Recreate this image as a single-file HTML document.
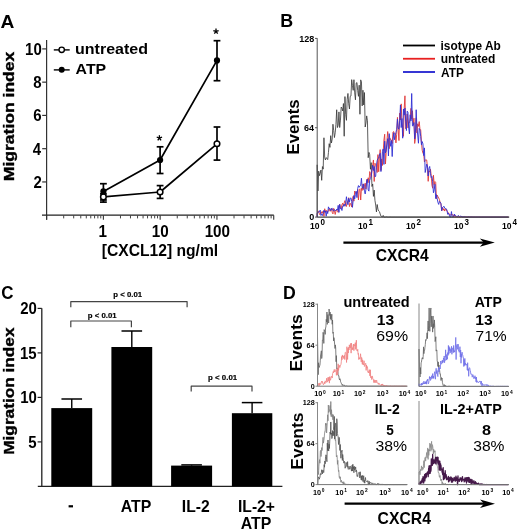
<!DOCTYPE html>
<html><head><meta charset="utf-8"><style>
html,body{margin:0;padding:0;background:#fff;}
svg{display:block;}
text{font-family:"Liberation Sans",sans-serif;}
</style></head><body>
<svg style="will-change:transform" width="520" height="530" viewBox="0 0 520 530">
<rect width="520" height="530" fill="#fff"/>
<text transform="translate(0.42,27.8) scale(1,1)" font-size="19.2" font-weight="bold" fill="#000">A</text>
<line x1="46.6" y1="40" x2="46.6" y2="219.8" stroke="#333" stroke-width="1.2"/>
<line x1="42.2" y1="181.94" x2="46.6" y2="181.94" stroke="#333" stroke-width="1.2"/>
<text transform="translate(33.39,187.94) scale(0.87,1)" font-size="17.2" font-weight="bold" fill="#000">2</text>
<line x1="42.2" y1="148.68" x2="46.6" y2="148.68" stroke="#333" stroke-width="1.2"/>
<text transform="translate(32.87,154.68) scale(0.87,1)" font-size="17.2" font-weight="bold" fill="#000">4</text>
<line x1="42.2" y1="115.42" x2="46.6" y2="115.42" stroke="#333" stroke-width="1.2"/>
<text transform="translate(33.32,121.42) scale(0.87,1)" font-size="17.2" font-weight="bold" fill="#000">6</text>
<line x1="42.2" y1="82.16" x2="46.6" y2="82.16" stroke="#333" stroke-width="1.2"/>
<text transform="translate(33.24,88.16) scale(0.87,1)" font-size="17.2" font-weight="bold" fill="#000">8</text>
<line x1="42.2" y1="48.9" x2="46.6" y2="48.9" stroke="#333" stroke-width="1.2"/>
<text transform="translate(25.08,54.9) scale(0.87,1)" font-size="17.2" font-weight="bold" fill="#000">10</text>
<line x1="42" y1="215.2" x2="273.8" y2="215.2" stroke="#222" stroke-width="1.3"/>
<line x1="46.6" y1="215.2" x2="46.6" y2="219.8" stroke="#333" stroke-width="1.1"/>
<line x1="63.69" y1="215.2" x2="63.69" y2="218.4" stroke="#444" stroke-width="1.0"/>
<line x1="73.69" y1="215.2" x2="73.69" y2="218.4" stroke="#444" stroke-width="1.0"/>
<line x1="80.78" y1="215.2" x2="80.78" y2="218.4" stroke="#444" stroke-width="1.0"/>
<line x1="86.29" y1="215.2" x2="86.29" y2="218.4" stroke="#444" stroke-width="1.0"/>
<line x1="90.78" y1="215.2" x2="90.78" y2="218.4" stroke="#444" stroke-width="1.0"/>
<line x1="94.58" y1="215.2" x2="94.58" y2="218.4" stroke="#444" stroke-width="1.0"/>
<line x1="97.88" y1="215.2" x2="97.88" y2="218.4" stroke="#444" stroke-width="1.0"/>
<line x1="100.78" y1="215.2" x2="100.78" y2="218.4" stroke="#444" stroke-width="1.0"/>
<line x1="103.38" y1="215.2" x2="103.38" y2="219.8" stroke="#333" stroke-width="1.1"/>
<line x1="120.47" y1="215.2" x2="120.47" y2="218.4" stroke="#444" stroke-width="1.0"/>
<line x1="130.47" y1="215.2" x2="130.47" y2="218.4" stroke="#444" stroke-width="1.0"/>
<line x1="137.56" y1="215.2" x2="137.56" y2="218.4" stroke="#444" stroke-width="1.0"/>
<line x1="143.07" y1="215.2" x2="143.07" y2="218.4" stroke="#444" stroke-width="1.0"/>
<line x1="147.56" y1="215.2" x2="147.56" y2="218.4" stroke="#444" stroke-width="1.0"/>
<line x1="151.36" y1="215.2" x2="151.36" y2="218.4" stroke="#444" stroke-width="1.0"/>
<line x1="154.66" y1="215.2" x2="154.66" y2="218.4" stroke="#444" stroke-width="1.0"/>
<line x1="157.56" y1="215.2" x2="157.56" y2="218.4" stroke="#444" stroke-width="1.0"/>
<line x1="160.16" y1="215.2" x2="160.16" y2="219.8" stroke="#333" stroke-width="1.1"/>
<line x1="177.25" y1="215.2" x2="177.25" y2="218.4" stroke="#444" stroke-width="1.0"/>
<line x1="187.25" y1="215.2" x2="187.25" y2="218.4" stroke="#444" stroke-width="1.0"/>
<line x1="194.34" y1="215.2" x2="194.34" y2="218.4" stroke="#444" stroke-width="1.0"/>
<line x1="199.85" y1="215.2" x2="199.85" y2="218.4" stroke="#444" stroke-width="1.0"/>
<line x1="204.34" y1="215.2" x2="204.34" y2="218.4" stroke="#444" stroke-width="1.0"/>
<line x1="208.14" y1="215.2" x2="208.14" y2="218.4" stroke="#444" stroke-width="1.0"/>
<line x1="211.44" y1="215.2" x2="211.44" y2="218.4" stroke="#444" stroke-width="1.0"/>
<line x1="214.34" y1="215.2" x2="214.34" y2="218.4" stroke="#444" stroke-width="1.0"/>
<line x1="216.94" y1="215.2" x2="216.94" y2="219.8" stroke="#333" stroke-width="1.1"/>
<line x1="234.03" y1="215.2" x2="234.03" y2="218.4" stroke="#444" stroke-width="1.0"/>
<line x1="244.03" y1="215.2" x2="244.03" y2="218.4" stroke="#444" stroke-width="1.0"/>
<line x1="251.12" y1="215.2" x2="251.12" y2="218.4" stroke="#444" stroke-width="1.0"/>
<line x1="256.63" y1="215.2" x2="256.63" y2="218.4" stroke="#444" stroke-width="1.0"/>
<line x1="261.12" y1="215.2" x2="261.12" y2="218.4" stroke="#444" stroke-width="1.0"/>
<line x1="264.92" y1="215.2" x2="264.92" y2="218.4" stroke="#444" stroke-width="1.0"/>
<line x1="268.22" y1="215.2" x2="268.22" y2="218.4" stroke="#444" stroke-width="1.0"/>
<line x1="271.12" y1="215.2" x2="271.12" y2="218.4" stroke="#444" stroke-width="1.0"/>
<line x1="273.72" y1="215.2" x2="273.72" y2="219.8" stroke="#333" stroke-width="1.1"/>
<text transform="translate(98.41,236.6) scale(0.9,1)" font-size="16.92" font-weight="bold" fill="#000">1</text>
<text transform="translate(151.78,236.6) scale(0.9,1)" font-size="16.92" font-weight="bold" fill="#000">10</text>
<text transform="translate(204.63,236.6) scale(0.9,1)" font-size="16.92" font-weight="bold" fill="#000">100</text>
<text transform="translate(101.74,256) scale(0.91,1)" font-size="17.2" font-weight="bold" fill="#000">[CXCL12] ng/ml</text>
<text transform="translate(14.2,181.19) rotate(-90) scale(1.23,1)" font-size="14.25" font-weight="bold" fill="#000" stroke="#000" stroke-width="0.35">Migration index</text>
<line x1="53.8" y1="49.9" x2="69.7" y2="49.9" stroke="#000" stroke-width="1.4"/>
<circle cx="61.7" cy="49.8" r="2.7" fill="#fff" stroke="#000" stroke-width="1.4"/>
<line x1="53.8" y1="69.9" x2="69.7" y2="69.9" stroke="#000" stroke-width="1.4"/>
<circle cx="61.7" cy="69.7" r="3.0" fill="#000"/>
<text transform="translate(74.99,54) scale(1.08,1)" font-size="14.84" font-weight="bold" fill="#000">untreated</text>
<text transform="translate(75.6,74.2) scale(1.07,1)" font-size="14.84" font-weight="bold" fill="#000">ATP</text>
<polyline points="103.4,196.9 160.1,192 217,143.8" fill="none" stroke="#000" stroke-width="1.7" stroke-linejoin="round" />
<polyline points="103.4,191.4 160.1,160 217,60.4" fill="none" stroke="#000" stroke-width="1.7" stroke-linejoin="round" />
<line x1="103.4" y1="193.9" x2="103.4" y2="202.1" stroke="#000" stroke-width="1.7"/>
<line x1="100" y1="193.9" x2="106.8" y2="193.9" stroke="#000" stroke-width="1.7"/>
<line x1="100" y1="202.1" x2="106.8" y2="202.1" stroke="#000" stroke-width="1.7"/>
<line x1="160.1" y1="185.6" x2="160.1" y2="198.4" stroke="#000" stroke-width="1.7"/>
<line x1="156.7" y1="185.6" x2="163.5" y2="185.6" stroke="#000" stroke-width="1.7"/>
<line x1="156.7" y1="198.4" x2="163.5" y2="198.4" stroke="#000" stroke-width="1.7"/>
<line x1="217" y1="127" x2="217" y2="160.1" stroke="#000" stroke-width="1.7"/>
<line x1="213.6" y1="127" x2="220.4" y2="127" stroke="#000" stroke-width="1.7"/>
<line x1="213.6" y1="160.1" x2="220.4" y2="160.1" stroke="#000" stroke-width="1.7"/>
<line x1="103.4" y1="183.7" x2="103.4" y2="200" stroke="#000" stroke-width="1.7"/>
<line x1="100" y1="183.7" x2="106.8" y2="183.7" stroke="#000" stroke-width="1.7"/>
<line x1="100" y1="200" x2="106.8" y2="200" stroke="#000" stroke-width="1.7"/>
<line x1="160.1" y1="146.8" x2="160.1" y2="173.5" stroke="#000" stroke-width="1.7"/>
<line x1="156.7" y1="146.8" x2="163.5" y2="146.8" stroke="#000" stroke-width="1.7"/>
<line x1="156.7" y1="173.5" x2="163.5" y2="173.5" stroke="#000" stroke-width="1.7"/>
<line x1="217" y1="40.7" x2="217" y2="80.7" stroke="#000" stroke-width="1.7"/>
<line x1="213.6" y1="40.7" x2="220.4" y2="40.7" stroke="#000" stroke-width="1.7"/>
<line x1="213.6" y1="80.7" x2="220.4" y2="80.7" stroke="#000" stroke-width="1.7"/>
<circle cx="103.4" cy="196.9" r="2.8" fill="#fff" stroke="#000" stroke-width="1.5"/>
<circle cx="160.1" cy="192.0" r="2.8" fill="#fff" stroke="#000" stroke-width="1.5"/>
<circle cx="217.0" cy="143.8" r="2.8" fill="#fff" stroke="#000" stroke-width="1.5"/>
<circle cx="103.4" cy="191.4" r="3.1" fill="#000"/>
<circle cx="160.1" cy="160.0" r="3.1" fill="#000"/>
<circle cx="217.0" cy="60.4" r="3.1" fill="#000"/>
<line x1="216" y1="31.4" x2="216" y2="28.6" stroke="#000" stroke-width="1.3"/>
<line x1="216" y1="31.4" x2="218.66" y2="30.53" stroke="#000" stroke-width="1.3"/>
<line x1="216" y1="31.4" x2="217.65" y2="33.67" stroke="#000" stroke-width="1.3"/>
<line x1="216" y1="31.4" x2="214.35" y2="33.67" stroke="#000" stroke-width="1.3"/>
<line x1="216" y1="31.4" x2="213.34" y2="30.53" stroke="#000" stroke-width="1.3"/>
<line x1="159.4" y1="138" x2="159.4" y2="135.2" stroke="#000" stroke-width="1.3"/>
<line x1="159.4" y1="138" x2="162.06" y2="137.13" stroke="#000" stroke-width="1.3"/>
<line x1="159.4" y1="138" x2="161.05" y2="140.27" stroke="#000" stroke-width="1.3"/>
<line x1="159.4" y1="138" x2="157.75" y2="140.27" stroke="#000" stroke-width="1.3"/>
<line x1="159.4" y1="138" x2="156.74" y2="137.13" stroke="#000" stroke-width="1.3"/>
<text transform="translate(280.19,27.2) scale(0.99,1)" font-size="18.04" font-weight="bold" fill="#000">B</text>
<polyline points="317.2,217.1 317.2,164.81 317.95,191.01 318.7,171.15 319.45,175.67 320.2,173.27 320.95,170 321.7,180.34 322.45,166.56 323.2,169.14 323.95,137.78 324.7,157.73 325.45,160 326.2,157.56 326.95,158.54 327.7,159.6 328.45,152.55 329.2,143.7 329.95,147.38 330.7,135.66 331.45,143.03 332.2,139.13 332.95,124.23 333.7,130.57 334.45,137.56 335.2,132.75 335.95,124.33 336.7,109.76 337.45,127.56 338.2,125.37 338.95,111.9 339.7,127.54 340.45,120.1 341.2,107.07 341.95,108.06 342.7,110.96 343.45,103.54 344.2,136.26 344.95,96.58 345.7,114.71 346.45,120.35 347.2,99.24 347.95,93.45 348.7,103.79 349.45,109.01 350.2,96.38 350.95,96.02 351.7,79.65 352.45,85.47 353.2,90.33 353.95,79.71 354.7,92.87 355.45,99.84 356.2,83.09 356.95,82.54 357.7,90.61 358.45,96.33 359.2,85.16 359.95,114.26 360.7,79.87 361.45,81.98 362.2,105.86 362.95,90.2 363.7,104.98 364.45,92.55 365.2,127.01 365.95,123.04 366.7,115.89 367.45,120.85 368.2,157.7 368.95,152.39 369.7,154.59 370.45,169.24 371.2,162.63 371.95,186.49 372.7,183.96 373.45,196.39 374.2,190.1 374.95,200.38 375.7,205.06 376.45,211.91 377.2,204.51 377.95,209.17 378.7,210.91 379.45,211.63 380.2,214.02 380.95,216.07 381.7,216.64 382.45,216.89 383.2,215.39 383.95,217.1 384.7,217.1 385.45,217.03 386.2,216.88 386.95,216.84 387.7,217.1 388.45,217.1 389.2,217.08 389.95,216.94 390.7,217.02 391.45,217.08 392.2,217.1 392.95,217.09 393.7,217.1 394.45,217.08 395.2,217.1 395.95,217.1 396.7,217.1 397.45,217.1 398.2,217.1 398.95,217.09 399.7,217.1 400.45,217.1 401.2,217.1 401.95,217.1 402.7,217.1 403.45,217.1 404.2,217.1 404.95,217.1 405.7,217.1 406.45,217.1 407.2,217.1 407.95,217.1 408.7,217.1 409.45,217.1 410.2,217.1 410.95,217.1 411.7,217.1 412.45,217.1 413.2,217.1 413.95,217.1 414.7,217.1 415.45,217.1 416.2,217.1 416.95,217.1 417.7,217.1 418.45,217.1 419.2,217.1 419.95,217.1 420.7,217.1 421.45,217.1 422.2,217.1 422.95,217.1 423.7,217.1 424.45,217.1 425.2,217.1 425.95,217.1 426.7,217.1 427.45,217.1 428.2,217.1 428.95,217.1 429.7,217.1 430.45,217.1 431.2,217.1 431.95,217.1 432.7,217.1 433.45,217.1 434.2,217.1 434.95,217.1 435.7,217.1 436.45,217.1 437.2,217.1 437.95,217.1 438.7,217.1 439.45,217.1 440.2,217.1 440.95,217.1 441.7,217.1 442.45,217.1 443.2,217.1 443.95,217.1 444.7,217.1 445.45,217.1 446.2,217.1 446.95,217.1 447.7,217.1 448.45,217.1 449.2,217.1 449.95,217.1 450.7,217.1 451.45,217.1 452.2,217.1 452.95,217.1 453.7,217.1 454.45,217.1 455.2,217.1 455.95,217.1 456.7,217.1 457.45,217.1 458.2,217.1 458.95,217.1 459.7,217.1 460.45,217.1 461.2,217.1 461.95,217.1 462.7,217.1 463.45,217.1 464.2,217.1 464.95,217.1 465.7,217.1 466.45,217.1 467.2,217.1 467.95,217.1 468.7,217.1 469.45,217.1 470.2,217.1 470.95,217.1 471.7,217.1 472.45,217.1 473.2,217.1 473.95,217.1 474.7,217.1 475.45,217.1 476.2,217.1 476.95,217.1 477.7,217.1 478.45,217.1 479.2,217.1 479.95,217.1 480.7,217.1 481.45,217.1 482.2,217.1 482.95,217.1 483.7,217.1 484.45,217.1 485.2,217.1 485.95,217.1 486.7,217.1 487.45,217.1 488.2,217.1 488.95,217.1 489.7,217.1 490.45,217.1 491.2,217.1 491.95,217.1 492.7,217.1 493.45,217.1 494.2,217.1 494.95,217.1 495.7,217.1 496.45,217.1 497.2,217.1 497.95,217.1 498.7,217.1 499.45,217.1 500.2,217.1 500.95,217.1 501.7,217.1 502.45,217.1 503.2,217.1 503.95,217.1 504.7,217.1 505.45,217.1 506.2,217.1 506.95,217.1 507.7,217.1 508.45,217.1" fill="none" stroke="#333" stroke-width="0.8" stroke-linejoin="round" />
<polyline points="317.2,217.1 317.2,213.82 317.95,211.23 318.7,211.28 319.45,214.41 320.2,213.86 320.95,214.17 321.7,211.77 322.45,212.88 323.2,210.99 323.95,216.42 324.7,208.74 325.45,212.24 326.2,210.25 326.95,211.94 327.7,212.31 328.45,210.06 329.2,208.91 329.95,211.25 330.7,210.89 331.45,208.46 332.2,212.34 332.95,213.87 333.7,208.39 334.45,211.11 335.2,214.45 335.95,211.02 336.7,209.74 337.45,211.65 338.2,212.32 338.95,207.29 339.7,204.21 340.45,207.47 341.2,208.8 341.95,204.69 342.7,203.16 343.45,206.24 344.2,202.87 344.95,200.62 345.7,204.68 346.45,206.48 347.2,201.68 347.95,201.55 348.7,197.7 349.45,206.57 350.2,203.59 350.95,203.8 351.7,207.02 352.45,198.63 353.2,196.25 353.95,201.14 354.7,191.01 355.45,192.77 356.2,192.89 356.95,193.16 357.7,189.7 358.45,199.99 359.2,189.62 359.95,188.78 360.7,200.03 361.45,188.24 362.2,190.45 362.95,183.95 363.7,189.6 364.45,186.28 365.2,183.2 365.95,189.14 366.7,179.48 367.45,182.5 368.2,177.75 368.95,182.77 369.7,171.58 370.45,173.31 371.2,177.06 371.95,170.51 372.7,164.99 373.45,159.97 374.2,181.48 374.95,163.24 375.7,164.73 376.45,167.29 377.2,172.5 377.95,154.59 378.7,171.76 379.45,156.68 380.2,149.58 380.95,170.4 381.7,158.96 382.45,165.49 383.2,151.73 383.95,139.97 384.7,134.21 385.45,164.02 386.2,152.68 386.95,140.5 387.7,131.55 388.45,139.99 389.2,148.71 389.95,138.25 390.7,139.66 391.45,140.01 392.2,143.5 392.95,132.12 393.7,131.58 394.45,134.05 395.2,134.08 395.95,142.88 396.7,134.37 397.45,117.38 398.2,129.58 398.95,140.55 399.7,113.11 400.45,119.95 401.2,103.86 401.95,122.9 402.7,127.32 403.45,136.35 404.2,108.62 404.95,95.81 405.7,128.74 406.45,126.64 407.2,114.01 407.95,127.88 408.7,122.13 409.45,122.79 410.2,117.33 410.95,108.36 411.7,119.2 412.45,110.75 413.2,124.67 413.95,118.22 414.7,143.46 415.45,138 416.2,117.87 416.95,132.92 417.7,123.81 418.45,126.37 419.2,121.59 419.95,128.82 420.7,129.69 421.45,142.39 422.2,150.18 422.95,153.19 423.7,153.97 424.45,162 425.2,160.19 425.95,159.59 426.7,159.99 427.45,167.29 428.2,181.33 428.95,171.14 429.7,171.97 430.45,169.26 431.2,175.32 431.95,185.36 432.7,188.19 433.45,175.22 434.2,184.67 434.95,181.5 435.7,182.5 436.45,198.84 437.2,195.1 437.95,196.62 438.7,197.94 439.45,199.66 440.2,202.46 440.95,203.93 441.7,210.86 442.45,207.45 443.2,210.24 443.95,208.57 444.7,211.07 445.45,209.02 446.2,209.36 446.95,211.29 447.7,211.91 448.45,212.93 449.2,214.44 449.95,214.32 450.7,215.23 451.45,214.16 452.2,215.04 452.95,214.55 453.7,217.1 454.45,214.75 455.2,216.78 455.95,216.85 456.7,216.44 457.45,216.86 458.2,216.26 458.95,217 459.7,217.1 460.45,217.1 461.2,216.04 461.95,216.81 462.7,217.1 463.45,216.91 464.2,217.1 464.95,216.32 465.7,217.1 466.45,216.87 467.2,216.88 467.95,217.1 468.7,216.98 469.45,216.85 470.2,216.98 470.95,217.03 471.7,216.93 472.45,217.06 473.2,217.04 473.95,217.1 474.7,217.03 475.45,217.1 476.2,217.03 476.95,217.1 477.7,217.1 478.45,217.08 479.2,217.01 479.95,217.05 480.7,217.1 481.45,217.07 482.2,217.1 482.95,217.1 483.7,217.1 484.45,217.1 485.2,217.1 485.95,217.1 486.7,217.1 487.45,217.1 488.2,217.1 488.95,217.1 489.7,217.09 490.45,217.09 491.2,217.1 491.95,217.09 492.7,217.1 493.45,217.1 494.2,217.1 494.95,217.1 495.7,217.1 496.45,217.1 497.2,217.1 497.95,217.1 498.7,217.1 499.45,217.1 500.2,217.1 500.95,217.1 501.7,217.1 502.45,217.1 503.2,217.1 503.95,217.1 504.7,217.1 505.45,217.1 506.2,217.1 506.95,217.1 507.7,217.1 508.45,217.1" fill="none" stroke="#e03838" stroke-width="0.9" stroke-linejoin="round" />
<polyline points="317.2,217.1 317.2,213.9 317.95,211.81 318.7,212.19 319.45,212.04 320.2,210.09 320.95,215.53 321.7,214.22 322.45,215.53 323.2,212.82 323.95,210.23 324.7,212.26 325.45,210.9 326.2,216.23 326.95,211.27 327.7,213.58 328.45,206.85 329.2,208.76 329.95,208.33 330.7,210.65 331.45,208.65 332.2,208.25 332.95,210.69 333.7,210.87 334.45,209.54 335.2,210.67 335.95,210.38 336.7,209.19 337.45,210.25 338.2,205.37 338.95,212.39 339.7,204.44 340.45,208.74 341.2,208.15 341.95,210.51 342.7,206.09 343.45,206.06 344.2,204.11 344.95,206.28 345.7,203.58 346.45,196.72 347.2,201.45 347.95,204.7 348.7,198.27 349.45,201.98 350.2,198.52 350.95,197.84 351.7,201.4 352.45,207.37 353.2,200.04 353.95,195.46 354.7,198.92 355.45,194.52 356.2,191.26 356.95,197.62 357.7,188.38 358.45,185.57 359.2,187.31 359.95,185.94 360.7,185.32 361.45,178.27 362.2,188.13 362.95,188.16 363.7,183.87 364.45,191.25 365.2,193.96 365.95,189.17 366.7,180.81 367.45,179.05 368.2,190.04 368.95,191.15 369.7,180.35 370.45,178.35 371.2,176.23 371.95,170.25 372.7,165.19 373.45,170.49 374.2,166.53 374.95,176.97 375.7,176.28 376.45,164.93 377.2,160.41 377.95,158.48 378.7,157.98 379.45,155.04 380.2,153.33 380.95,171.57 381.7,162.33 382.45,151.54 383.2,148.91 383.95,164.45 384.7,141.17 385.45,152.94 386.2,149.81 386.95,144.13 387.7,138.63 388.45,155.95 389.2,133.62 389.95,140.18 390.7,146.33 391.45,140.65 392.2,156.55 392.95,141.5 393.7,132.73 394.45,139.71 395.2,135.06 395.95,132.27 396.7,129.36 397.45,119.13 398.2,128 398.95,129.3 399.7,120.75 400.45,105.05 401.2,127.57 401.95,118.53 402.7,138.2 403.45,109.02 404.2,115.14 404.95,107.98 405.7,121.22 406.45,130.55 407.2,111.14 407.95,112.18 408.7,128.05 409.45,133.94 410.2,114.78 410.95,120.94 411.7,93.49 412.45,125.94 413.2,125.74 413.95,122.53 414.7,138.84 415.45,132.56 416.2,109.72 416.95,128.55 417.7,135 418.45,143.24 419.2,128.39 419.95,130.21 420.7,136.45 421.45,144.82 422.2,141.57 422.95,143.84 423.7,155.56 424.45,147.9 425.2,172.51 425.95,168.76 426.7,164.13 427.45,165.61 428.2,175.97 428.95,168.39 429.7,166.46 430.45,173.33 431.2,177.51 431.95,176.54 432.7,181.67 433.45,192.77 434.2,189.8 434.95,184.27 435.7,198.61 436.45,194.68 437.2,198.6 437.95,202.48 438.7,204.42 439.45,201.39 440.2,202.04 440.95,203.45 441.7,210.67 442.45,207.85 443.2,206.92 443.95,206.21 444.7,207.98 445.45,208.48 446.2,208.68 446.95,210.12 447.7,214.32 448.45,213 449.2,214.94 449.95,217.1 450.7,217.1 451.45,211.55 452.2,216.66 452.95,217.1 453.7,216.3 454.45,214.02 455.2,216.01 455.95,215.72 456.7,216.51 457.45,216.45 458.2,215.49 458.95,216 459.7,216.72 460.45,216.18 461.2,216.18 461.95,216.95 462.7,216.75 463.45,216.8 464.2,217.1 464.95,216.55 465.7,217.05 466.45,217.1 467.2,217.1 467.95,217.1 468.7,216.71 469.45,217.1 470.2,216.99 470.95,217.1 471.7,217 472.45,217 473.2,217.1 473.95,217.1 474.7,217.08 475.45,217.08 476.2,217.1 476.95,217.1 477.7,217.06 478.45,217.02 479.2,217.07 479.95,217.1 480.7,217.08 481.45,217.1 482.2,217.08 482.95,217.05 483.7,217.1 484.45,217.1 485.2,217.1 485.95,217.1 486.7,217.1 487.45,217.08 488.2,217.1 488.95,217.1 489.7,217.08 490.45,217.1 491.2,217.09 491.95,217.09 492.7,217.1 493.45,217.1 494.2,217.1 494.95,217.1 495.7,217.1 496.45,217.1 497.2,217.1 497.95,217.1 498.7,217.1 499.45,217.1 500.2,217.1 500.95,217.1 501.7,217.1 502.45,217.1 503.2,217.1 503.95,217.1 504.7,217.1 505.45,217.1 506.2,217.1 506.95,217.1 507.7,217.1 508.45,217.1" fill="none" stroke="#3030d4" stroke-width="0.9" stroke-linejoin="round" />
<line x1="317.2" y1="38.2" x2="317.2" y2="217.1" stroke="#555" stroke-width="1.0"/>
<line x1="317.2" y1="217.1" x2="509.2" y2="217.1" stroke="#444" stroke-width="1.1"/>
<line x1="315" y1="38.4" x2="317.2" y2="38.4" stroke="#555" stroke-width="1.0"/>
<text transform="translate(299.21,41.5) scale(1,1)" font-size="9.03" font-weight="bold" fill="#000">128</text>
<line x1="315" y1="127.75" x2="317.2" y2="127.75" stroke="#555" stroke-width="1.0"/>
<text transform="translate(304.02,130.85) scale(1,1)" font-size="9.03" font-weight="bold" fill="#000">64</text>
<line x1="315" y1="217.1" x2="317.2" y2="217.1" stroke="#555" stroke-width="1.0"/>
<text transform="translate(309.35,220.2) scale(1,1)" font-size="9.03" font-weight="bold" fill="#000">0</text>
<text transform="translate(310.07,229.4) scale(0.95,1)" font-size="9.03" font-weight="bold" fill="#000">10</text>
<text transform="translate(320.57,225.2) scale(0.95,1)" font-size="8.46" font-weight="bold" fill="#000">0</text>
<text transform="translate(358.07,229.4) scale(0.95,1)" font-size="9.03" font-weight="bold" fill="#000">10</text>
<text transform="translate(368.43,225.2) scale(0.95,1)" font-size="8.46" font-weight="bold" fill="#000">1</text>
<text transform="translate(406.07,229.4) scale(0.95,1)" font-size="9.03" font-weight="bold" fill="#000">10</text>
<text transform="translate(416.59,225.2) scale(0.95,1)" font-size="8.46" font-weight="bold" fill="#000">2</text>
<text transform="translate(454.07,229.4) scale(0.95,1)" font-size="9.03" font-weight="bold" fill="#000">10</text>
<text transform="translate(464.62,225.2) scale(0.95,1)" font-size="8.46" font-weight="bold" fill="#000">3</text>
<text transform="translate(502.07,229.4) scale(0.95,1)" font-size="9.03" font-weight="bold" fill="#000">10</text>
<text transform="translate(512.53,225.2) scale(0.95,1)" font-size="8.46" font-weight="bold" fill="#000">4</text>
<line x1="403" y1="45.5" x2="435" y2="45.5" stroke="#000" stroke-width="1.8"/>
<line x1="403" y1="58.75" x2="435" y2="58.75" stroke="#e82020" stroke-width="1.8"/>
<line x1="403" y1="72" x2="435" y2="72" stroke="#2020d0" stroke-width="1.8"/>
<text transform="translate(440.57,50) scale(0.95,1)" font-size="12.51" font-weight="bold" fill="#000">isotype Ab</text>
<text transform="translate(440.65,62.7) scale(0.96,1)" font-size="12.51" font-weight="bold" fill="#000">untreated</text>
<text transform="translate(441.1,77) scale(0.95,1)" font-size="12.51" font-weight="bold" fill="#000">ATP</text>
<text transform="translate(299,154.44) rotate(-90) scale(1.05,1)" font-size="16" font-weight="bold" fill="#000">Events</text>
<line x1="343.4" y1="242.6" x2="488.8" y2="242.6" stroke="#000" stroke-width="2.2"/>
<path d="M494.8,242.6 L479.8,238.4 L483.8,242.6 L479.8,246.8 Z" fill="#000"/>
<text transform="translate(375.77,261.2) scale(0.94,1)" font-size="16.63" font-weight="bold" fill="#000">CXCR4</text>
<text transform="translate(1.32,299.4) scale(0.91,1)" font-size="18.64" font-weight="bold" fill="#000">C</text>
<line x1="41.8" y1="308.2" x2="41.8" y2="486.4" stroke="#222" stroke-width="1.3"/>
<line x1="37.6" y1="441.9" x2="41.8" y2="441.9" stroke="#222" stroke-width="1.2"/>
<text transform="translate(28.3,447.9) scale(0.87,1)" font-size="17.2" font-weight="bold" fill="#000">5</text>
<line x1="37.6" y1="397.4" x2="41.8" y2="397.4" stroke="#222" stroke-width="1.2"/>
<text transform="translate(20.18,403.4) scale(0.87,1)" font-size="17.2" font-weight="bold" fill="#000">10</text>
<line x1="37.6" y1="352.9" x2="41.8" y2="352.9" stroke="#222" stroke-width="1.2"/>
<text transform="translate(20,358.9) scale(0.87,1)" font-size="17.2" font-weight="bold" fill="#000">15</text>
<line x1="37.6" y1="308.4" x2="41.8" y2="308.4" stroke="#222" stroke-width="1.2"/>
<text transform="translate(20.18,314.4) scale(0.87,1)" font-size="17.2" font-weight="bold" fill="#000">20</text>
<line x1="37.8" y1="486.4" x2="282.4" y2="486.4" stroke="#222" stroke-width="1.3"/>
<rect x="51.3" y="408.1" width="40.9" height="78.3" fill="#000"/>
<line x1="71.75" y1="399" x2="71.75" y2="408.1" stroke="#000" stroke-width="1.4"/>
<line x1="61.45" y1="399" x2="82.05" y2="399" stroke="#000" stroke-width="1.5"/>
<rect x="111.4" y="347" width="40.8" height="139.4" fill="#000"/>
<line x1="131.8" y1="331" x2="131.8" y2="347" stroke="#000" stroke-width="1.4"/>
<line x1="121.5" y1="331" x2="142.1" y2="331" stroke="#000" stroke-width="1.5"/>
<rect x="171.1" y="465.6" width="41" height="20.8" fill="#000"/>
<line x1="191.6" y1="464.9" x2="191.6" y2="465.6" stroke="#000" stroke-width="1.4"/>
<line x1="181.3" y1="464.9" x2="201.9" y2="464.9" stroke="#000" stroke-width="1.5"/>
<rect x="231.9" y="413.2" width="40.4" height="73.2" fill="#000"/>
<line x1="252.1" y1="402.6" x2="252.1" y2="413.2" stroke="#000" stroke-width="1.4"/>
<line x1="241.8" y1="402.6" x2="262.4" y2="402.6" stroke="#000" stroke-width="1.5"/>
<polyline points="70.8,307.3 70.8,301.6 187.1,301.6 187.1,307.3" fill="none" stroke="#444" stroke-width="1.2" stroke-linejoin="round" stroke-linejoin="miter"/>
<polyline points="70.8,327.2 70.8,321 131.4,321 131.4,327.2" fill="none" stroke="#444" stroke-width="1.2" stroke-linejoin="round" stroke-linejoin="miter"/>
<polyline points="191.2,391.6 191.2,386.2 252,386.2 252,391.6" fill="none" stroke="#444" stroke-width="1.2" stroke-linejoin="round" stroke-linejoin="miter"/>
<text transform="translate(113.29,296.9) scale(0.97,1)" font-size="8.03" font-weight="bold" fill="#000" stroke="#000" stroke-width="0.2">p &lt; 0.01</text>
<text transform="translate(87.79,317.6) scale(0.97,1)" font-size="8.03" font-weight="bold" fill="#000" stroke="#000" stroke-width="0.2">p &lt; 0.01</text>
<text transform="translate(208.09,379.8) scale(0.98,1)" font-size="8.03" font-weight="bold" fill="#000" stroke="#000" stroke-width="0.2">p &lt; 0.01</text>
<text transform="translate(13.8,454.77) rotate(-90) scale(1.21,1)" font-size="14.25" font-weight="bold" fill="#000" stroke="#000" stroke-width="0.35">Migration index</text>
<rect x="68.6" y="505.2" width="4.4" height="2.2" fill="#000"/>
<text transform="translate(120.8,512) scale(0.94,1)" font-size="16.87" font-weight="bold" fill="#000">ATP</text>
<text transform="translate(181.85,512) scale(0.93,1)" font-size="16.87" font-weight="bold" fill="#000">IL-2</text>
<text transform="translate(237.95,512) scale(0.93,1)" font-size="16.87" font-weight="bold" fill="#000">IL-2+</text>
<text transform="translate(240.8,528.6) scale(0.94,1)" font-size="16.87" font-weight="bold" fill="#000">ATP</text>
<text transform="translate(283.01,298.8) scale(0.95,1)" font-size="18.62" font-weight="bold" fill="#000">D</text>
<polyline points="317.5,386.2 317.5,336.23 318.2,374.71 318.55,362.78 318.9,366.56 319.25,367.43 319.6,365.83 319.95,365.15 320.3,360.23 320.65,354.24 321,353.14 321.35,350.8 321.7,358.55 322.05,356.1 322.4,340.05 322.75,340.39 323.1,332.31 323.45,334.6 323.8,343.42 324.15,329.6 324.5,330.76 324.85,330.82 325.2,334.38 325.55,327.99 325.9,326.97 326.25,319.34 326.6,322.04 326.95,312.03 327.3,324.38 327.65,315.8 328,314.51 328.35,321.75 328.7,322.92 329.05,309.03 329.4,311.61 329.75,315.51 330.1,312.05 330.45,318.86 330.8,314.02 331.15,320.24 331.5,317.02 331.85,314.27 332.2,324.25 332.55,320.05 332.9,333.34 333.25,332.21 333.6,340.95 333.95,337.64 334.3,340.12 334.65,344.83 335,348.49 335.35,344.86 335.7,348.03 336.05,361.72 336.4,355.64 336.75,368.8 337.1,367.85 337.45,368.44 337.8,369.85 338.15,375.06 338.5,375.93 338.85,375.63 339.2,378.8 339.55,379.92 339.9,378.61 340.25,379.29 340.6,381.82 340.95,382.47 341.3,383.17 341.65,384.21 342,384.69 342.35,385.51 342.7,384.34 343.05,385.2 343.4,385.45 343.75,385.42 344.1,385.4 344.45,385.14 344.8,385.99 345.15,386.1 345.5,385.95 345.85,386.2 346.2,385.79 346.55,385.93 346.9,386.02 347.25,386.17 347.6,386.07 347.95,386.06 348.3,386.13 348.65,386.2 349,386.2 349.35,386.14 349.7,386.2 350.05,386.2 350.4,386.17 350.75,386.19 351.1,386.2 351.45,386.2 351.8,386.2 352.15,386.19 352.5,386.2 352.85,386.2 353.2,386.2 353.55,386.19 353.9,386.2 354.25,386.2 354.6,386.2 354.95,386.2 355.3,386.2 355.65,386.2 356,386.2 356.35,386.2 356.7,386.2 357.05,386.2 357.4,386.2 357.75,386.2 358.1,386.2 358.45,386.2 358.8,386.2 359.15,386.2 359.5,386.2 359.85,386.2 360.2,386.2 360.55,386.2 360.9,386.2 361.25,386.2 361.6,386.2 361.95,386.2 362.3,386.2 362.65,386.2 363,386.2 363.35,386.2 363.7,386.2 364.05,386.2 364.4,386.2 364.75,386.2 365.1,386.2 365.45,386.2 365.8,386.2 366.15,386.2 366.5,386.2 366.85,386.2 367.2,386.2 367.55,386.2 367.9,386.2 368.25,386.2 368.6,386.2 368.95,386.2 369.3,386.2 369.65,386.2 370,386.2 370.35,386.2 370.7,386.2 371.05,386.2 371.4,386.2 371.75,386.2 372.1,386.2 372.45,386.2 372.8,386.2 373.15,386.2 373.5,386.2 373.85,386.2 374.2,386.2 374.55,386.2 374.9,386.2 375.25,386.2 375.6,386.2 375.95,386.2 376.3,386.2 376.65,386.2 377,386.2 377.35,386.2 377.7,386.2 378.05,386.2 378.4,386.2 378.75,386.2 379.1,386.2 379.45,386.2 379.8,386.2 380.15,386.2 380.5,386.2 380.85,386.2 381.2,386.2 381.55,386.2 381.9,386.2 382.25,386.2 382.6,386.2 382.95,386.2 383.3,386.2 383.65,386.2 384,386.2 384.35,386.2 384.7,386.2 385.05,386.2 385.4,386.2 385.75,386.2 386.1,386.2 386.45,386.2 386.8,386.2 387.15,386.2 387.5,386.2 387.85,386.2 388.2,386.2 388.55,386.2 388.9,386.2 389.25,386.2 389.6,386.2 389.95,386.2 390.3,386.2 390.65,386.2 391,386.2 391.35,386.2 391.7,386.2 392.05,386.2 392.4,386.2 392.75,386.2 393.1,386.2 393.45,386.2 393.8,386.2 394.15,386.2 394.5,386.2 394.85,386.2 395.2,386.2 395.55,386.2 395.9,386.2 396.25,386.2 396.6,386.2 396.95,386.2 397.3,386.2 397.65,386.2 398,386.2 398.35,386.2 398.7,386.2 399.05,386.2 399.4,386.2 399.75,386.2 400.1,386.2 400.45,386.2 400.8,386.2 401.15,386.2 401.5,386.2 401.85,386.2 402.2,386.2 402.55,386.2 402.9,386.2 403.25,386.2 403.6,386.2 403.95,386.2 404.3,386.2 404.65,386.2 405,386.2 405.35,386.2 405.7,386.2 406.05,386.2 406.4,386.2 406.75,386.2" fill="none" stroke="#606060" stroke-width="0.8" stroke-linejoin="round" />
<polyline points="317.5,386.2 317.5,385.83 317.85,385.62 318.2,385.64 318.55,385 318.9,383.13 319.25,385.7 319.6,383.32 319.95,382.89 320.3,384.3 320.65,384.53 321,383.25 321.35,382.34 321.7,381.19 322.05,382.37 322.4,381.43 322.75,383.57 323.1,383.93 323.45,384.8 323.8,384.01 324.15,382.9 324.5,382.03 324.85,383.81 325.2,380.85 325.55,381.88 325.9,382.44 326.25,382.43 326.6,378.24 326.95,380.68 327.3,382.06 327.65,381.94 328,377.37 328.35,380.92 328.7,377.81 329.05,377.12 329.4,383.14 329.75,376.58 330.1,378.99 330.45,380.26 330.8,378.99 331.15,376.61 331.5,376.6 331.85,376.13 332.2,378.03 332.55,373.62 332.9,372.71 333.25,371.54 333.6,372.82 333.95,370.39 334.3,369.41 334.65,372.01 335,371.08 335.35,371.25 335.7,370.79 336.05,369.47 336.4,375.3 336.75,371.31 337.1,368.66 337.45,374.88 337.8,372.6 338.15,363.83 338.5,370.45 338.85,368.2 339.2,365.18 339.55,366.99 339.9,367.5 340.25,365.84 340.6,364.93 340.95,364.75 341.3,361.71 341.65,356.49 342,359.78 342.35,354.95 342.7,357.13 343.05,356.11 343.4,356.25 343.75,358.6 344.1,355.47 344.45,355.23 344.8,359.59 345.15,352.37 345.5,352.35 345.85,352.51 346.2,355.34 346.55,362.49 346.9,346.73 347.25,351.97 347.6,359.47 347.95,348.29 348.3,353.02 348.65,347.29 349,349.97 349.35,344.82 349.7,348.01 350.05,347.55 350.4,347.82 350.75,343.34 351.1,353.15 351.45,343.22 351.8,345.05 352.15,349.92 352.5,347.7 352.85,349.47 353.2,347.51 353.55,344.1 353.9,350.64 354.25,345.16 354.6,344.58 354.95,346.01 355.3,342.66 355.65,349.35 356,346.71 356.35,340.18 356.7,350.05 357.05,351.11 357.4,351.01 357.75,349.3 358.1,354.33 358.45,353.46 358.8,359.57 359.15,357.51 359.5,357.97 359.85,359.06 360.2,357.11 360.55,353.76 360.9,358.19 361.25,362.07 361.6,357.41 361.95,358.37 362.3,364.27 362.65,359.88 363,364.53 363.35,363.81 363.7,364.83 364.05,360.75 364.4,366.48 364.75,365.67 365.1,364.91 365.45,363.2 365.8,363.55 366.15,370.39 366.5,365.06 366.85,368.17 367.2,366.52 367.55,367.61 367.9,372.29 368.25,371.5 368.6,372.93 368.95,371.97 369.3,369.66 369.65,373.9 370,376.04 370.35,369.75 370.7,377.75 371.05,376.2 371.4,376.74 371.75,379.64 372.1,376.19 372.45,376.19 372.8,378.7 373.15,378.88 373.5,379.66 373.85,382.63 374.2,379.76 374.55,382.4 374.9,382.26 375.25,380.59 375.6,380.19 375.95,382.94 376.3,380.56 376.65,380.09 377,382.36 377.35,382.9 377.7,382.81 378.05,383.69 378.4,384.36 378.75,382.99 379.1,383.12 379.45,384.47 379.8,384.52 380.15,384.85 380.5,385.04 380.85,385.36 381.2,385.88 381.55,384.14 381.9,385.18 382.25,384.98 382.6,383.93 382.95,385.51 383.3,384.93 383.65,386.15 384,385.78 384.35,385.12 384.7,385.69 385.05,386.2 385.4,386.2 385.75,385.56 386.1,386.15 386.45,385.52 386.8,385.73 387.15,385.98 387.5,385.92 387.85,385.67 388.2,385.94 388.55,386.2 388.9,385.9 389.25,386.11 389.6,386.1 389.95,385.91 390.3,385.99 390.65,385.85 391,386.13 391.35,386.19 391.7,386.18 392.05,386.05 392.4,386.2 392.75,386.2 393.1,386.2 393.45,386.2 393.8,386.18 394.15,385.85 394.5,386.2 394.85,386.14 395.2,386.16 395.55,386.19 395.9,386.18 396.25,386.01 396.6,386.2 396.95,386.06 397.3,386.14 397.65,386.2 398,386.2 398.35,386.2 398.7,386.2 399.05,386.13 399.4,386.17 399.75,386.17 400.1,386.2 400.45,386.18 400.8,386.2 401.15,386.11 401.5,386.2 401.85,386.19 402.2,386.19 402.55,386.2 402.9,386.2 403.25,386.2 403.6,386.18 403.95,386.2 404.3,386.2 404.65,386.19 405,386.2 405.35,386.2 405.7,386.2 406.05,386.2 406.4,386.2 406.75,386.19" fill="none" stroke="#f08080" stroke-width="0.8" stroke-linejoin="round" />
<line x1="317.5" y1="303.7" x2="317.5" y2="386.2" stroke="#888" stroke-width="1.0"/>
<line x1="317.5" y1="386.2" x2="407.5" y2="386.2" stroke="#777" stroke-width="1.0"/>
<line x1="315.5" y1="304.2" x2="317.5" y2="304.2" stroke="#777" stroke-width="0.9"/>
<text transform="translate(302.76,306.7) scale(1,1)" font-size="7.17" font-weight="bold" fill="#000">128</text>
<line x1="315.5" y1="345.2" x2="317.5" y2="345.2" stroke="#777" stroke-width="0.9"/>
<text transform="translate(306.58,347.7) scale(1,1)" font-size="7.17" font-weight="bold" fill="#000">64</text>
<line x1="315.5" y1="386.2" x2="317.5" y2="386.2" stroke="#777" stroke-width="0.9"/>
<text transform="translate(310.81,388.7) scale(1,1)" font-size="7.17" font-weight="bold" fill="#000">0</text>
<polyline points="419,386.4 419,349.06 419.7,371.77 420.05,377 420.4,367.57 420.75,374.08 421.1,362.85 421.45,362.14 421.8,359.58 422.15,357.72 422.5,357.8 422.85,359.14 423.2,356.37 423.55,346.89 423.9,353.66 424.25,350.15 424.6,350.38 424.95,347.46 425.3,344.47 425.65,339.74 426,340.45 426.35,338.82 426.7,338.29 427.05,332.78 427.4,338.66 427.75,329.49 428.1,320.95 428.45,330.95 428.8,325.55 429.15,307.98 429.5,328.64 429.85,331.35 430.2,323.63 430.55,309.88 430.9,307.99 431.25,326.81 431.6,316.1 431.95,319.48 432.3,323.38 432.65,332.12 433,315.99 433.35,328.43 433.7,323.71 434.05,327.14 434.4,319.93 434.75,326.53 435.1,341.57 435.45,339.95 435.8,336.74 436.15,351.11 436.5,349.83 436.85,350.24 437.2,360.91 437.55,362.1 437.9,366.47 438.25,361.89 438.6,367.33 438.95,364.99 439.3,369.78 439.65,370.6 440,374.24 440.35,373.94 440.7,377.45 441.05,380.56 441.4,377.56 441.75,379.13 442.1,378.17 442.45,382.7 442.8,383.92 443.15,385.45 443.5,386.4 443.85,385.89 444.2,384.56 444.55,385.94 444.9,386.4 445.25,385.3 445.6,386.15 445.95,386.13 446.3,386.24 446.65,386.18 447,386.04 447.35,386.4 447.7,386.34 448.05,386.4 448.4,386.12 448.75,386.4 449.1,386.13 449.45,386.3 449.8,386.21 450.15,386.4 450.5,386.33 450.85,386.37 451.2,386.4 451.55,386.4 451.9,386.4 452.25,386.4 452.6,386.4 452.95,386.4 453.3,386.4 453.65,386.39 454,386.4 454.35,386.4 454.7,386.39 455.05,386.4 455.4,386.4 455.75,386.4 456.1,386.4 456.45,386.4 456.8,386.4 457.15,386.4 457.5,386.4 457.85,386.4 458.2,386.4 458.55,386.4 458.9,386.4 459.25,386.4 459.6,386.4 459.95,386.4 460.3,386.4 460.65,386.4 461,386.4 461.35,386.4 461.7,386.4 462.05,386.4 462.4,386.4 462.75,386.4 463.1,386.4 463.45,386.4 463.8,386.4 464.15,386.4 464.5,386.4 464.85,386.4 465.2,386.4 465.55,386.4 465.9,386.4 466.25,386.4 466.6,386.4 466.95,386.4 467.3,386.4 467.65,386.4 468,386.4 468.35,386.4 468.7,386.4 469.05,386.4 469.4,386.4 469.75,386.4 470.1,386.4 470.45,386.4 470.8,386.4 471.15,386.4 471.5,386.4 471.85,386.4 472.2,386.4 472.55,386.4 472.9,386.4 473.25,386.4 473.6,386.4 473.95,386.4 474.3,386.4 474.65,386.4 475,386.4 475.35,386.4 475.7,386.4 476.05,386.4 476.4,386.4 476.75,386.4 477.1,386.4 477.45,386.4 477.8,386.4 478.15,386.4 478.5,386.4 478.85,386.4 479.2,386.4 479.55,386.4 479.9,386.4 480.25,386.4 480.6,386.4 480.95,386.4 481.3,386.4 481.65,386.4 482,386.4 482.35,386.4 482.7,386.4 483.05,386.4 483.4,386.4 483.75,386.4 484.1,386.4 484.45,386.4 484.8,386.4 485.15,386.4 485.5,386.4 485.85,386.4 486.2,386.4 486.55,386.4 486.9,386.4 487.25,386.4 487.6,386.4 487.95,386.4 488.3,386.4 488.65,386.4 489,386.4 489.35,386.4 489.7,386.4 490.05,386.4 490.4,386.4 490.75,386.4 491.1,386.4 491.45,386.4 491.8,386.4 492.15,386.4 492.5,386.4 492.85,386.4 493.2,386.4 493.55,386.4 493.9,386.4 494.25,386.4 494.6,386.4 494.95,386.4 495.3,386.4 495.65,386.4 496,386.4 496.35,386.4 496.7,386.4 497.05,386.4 497.4,386.4 497.75,386.4 498.1,386.4 498.45,386.4 498.8,386.4 499.15,386.4 499.5,386.4 499.85,386.4 500.2,386.4 500.55,386.4 500.9,386.4 501.25,386.4 501.6,386.4 501.95,386.4 502.3,386.4 502.65,386.4 503,386.4 503.35,386.4 503.7,386.4 504.05,386.4 504.4,386.4 504.75,386.4 505.1,386.4 505.45,386.4 505.8,386.4 506.15,386.4 506.5,386.4 506.85,386.4 507.2,386.4 507.55,386.4 507.9,386.4 508.25,386.4" fill="none" stroke="#606060" stroke-width="0.8" stroke-linejoin="round" />
<polyline points="419,386.4 419,383.79 419.35,384.49 419.7,385.65 420.05,384.73 420.4,384.77 420.75,384.56 421.1,383.68 421.45,385.36 421.8,383.03 422.15,385.02 422.5,383.93 422.85,382.64 423.2,382.72 423.55,384.08 423.9,381.1 424.25,382.56 424.6,383.98 424.95,382.6 425.3,383.53 425.65,381.73 426,383.89 426.35,381.25 426.7,384.16 427.05,379.93 427.4,380.87 427.75,379.02 428.1,381.88 428.45,383.81 428.8,382.48 429.15,380.44 429.5,376.53 429.85,378.52 430.2,376.94 430.55,380.44 430.9,379.53 431.25,378.86 431.6,375.73 431.95,378.64 432.3,377.77 432.65,373.61 433,378.21 433.35,376.11 433.7,378.46 434.05,375.7 434.4,372.94 434.75,371.63 435.1,376.99 435.45,379.2 435.8,371.57 436.15,368.31 436.5,373.52 436.85,370.6 437.2,370.64 437.55,375.72 437.9,376.59 438.25,369.15 438.6,367.04 438.95,371.95 439.3,368.05 439.65,368.76 440,368.65 440.35,369.01 440.7,361.02 441.05,363.84 441.4,363.92 441.75,364.06 442.1,360.64 442.45,362.83 442.8,360.01 443.15,362.41 443.5,358.04 443.85,359.59 444.2,355.97 444.55,362.71 444.9,359.44 445.25,360.42 445.6,349.81 445.95,357.06 446.3,354.52 446.65,360.07 447,356.73 447.35,359.08 447.7,352.62 448.05,355.42 448.4,345.43 448.75,354.26 449.1,346.58 449.45,350.65 449.8,347.74 450.15,353.05 450.5,349.35 450.85,349.53 451.2,351.81 451.55,346.29 451.9,354.3 452.25,348.92 452.6,348.96 452.95,347.76 453.3,352.71 453.65,345.47 454,351.78 454.35,350.67 454.7,352.21 455.05,350.07 455.4,347.21 455.75,337.43 456.1,359.57 456.45,345.8 456.8,346.21 457.15,344.24 457.5,349.3 457.85,348.86 458.2,344.16 458.55,351.02 458.9,351.15 459.25,352.3 459.6,351.09 459.95,346.68 460.3,357.04 460.65,350.02 461,363.24 461.35,353.76 461.7,357.52 462.05,352.12 462.4,354.42 462.75,355.14 463.1,356.54 463.45,358.01 463.8,366.53 464.15,359.47 464.5,365.51 464.85,358.4 465.2,364.55 465.55,363.1 465.9,365.32 466.25,364.23 466.6,364.56 466.95,364.29 467.3,370.05 467.65,362.7 468,370.77 468.35,368.89 468.7,376.33 469.05,368.9 469.4,367.76 469.75,367.82 470.1,370.18 470.45,370.88 470.8,374.23 471.15,374.15 471.5,374.2 471.85,373.94 472.2,377.17 472.55,376.09 472.9,374.67 473.25,375.93 473.6,377 473.95,378.79 474.3,377.06 474.65,377.69 475,375.73 475.35,378.82 475.7,377.52 476.05,381.84 476.4,377.02 476.75,382.5 477.1,380.77 477.45,381.52 477.8,382.15 478.15,382.04 478.5,382.62 478.85,381.99 479.2,382.03 479.55,381.17 479.9,381.32 480.25,380.96 480.6,382.72 480.95,384.38 481.3,381.12 481.65,383.24 482,386.4 482.35,383.4 482.7,384.44 483.05,385.11 483.4,385.12 483.75,384.66 484.1,385.51 484.45,384.75 484.8,385.18 485.15,385.28 485.5,384.91 485.85,385.09 486.2,384.33 486.55,385.17 486.9,386.14 487.25,385.6 487.6,384.7 487.95,384.79 488.3,386.2 488.65,385.49 489,386.1 489.35,386.05 489.7,386.4 490.05,386.4 490.4,386.16 490.75,385.97 491.1,385.91 491.45,386.4 491.8,386.23 492.15,386.13 492.5,386.25 492.85,386.4 493.2,386.4 493.55,386.22 493.9,386.11 494.25,386.4 494.6,386.05 494.95,386.4 495.3,386.04 495.65,386.4 496,386.33 496.35,386.4 496.7,386.4 497.05,386.4 497.4,386.35 497.75,386.4 498.1,386.25 498.45,386.4 498.8,386.37 499.15,386.4 499.5,386.4 499.85,386.39 500.2,386.4 500.55,386.32 500.9,386.4 501.25,386.36 501.6,386.4 501.95,386.4 502.3,386.4 502.65,386.31 503,386.28 503.35,386.4 503.7,386.37 504.05,386.39 504.4,386.36 504.75,386.35 505.1,386.31 505.45,386.4 505.8,386.4 506.15,386.37 506.5,386.4 506.85,386.4 507.2,386.36 507.55,386.35 507.9,386.4 508.25,386.37" fill="none" stroke="#7070e8" stroke-width="0.8" stroke-linejoin="round" />
<line x1="419" y1="303.5" x2="419" y2="386.4" stroke="#888" stroke-width="1.0"/>
<line x1="419" y1="386.4" x2="509" y2="386.4" stroke="#777" stroke-width="1.0"/>
<polyline points="317.5,484.6 317.5,434.69 318.2,470.74 318.55,474.54 318.9,466.28 319.25,461.78 319.6,459.61 319.95,463.22 320.3,451.51 320.65,450.39 321,456.57 321.35,454.29 321.7,447.62 322.05,450.54 322.4,446.3 322.75,439.56 323.1,437.31 323.45,443.13 323.8,440.58 324.15,438.86 324.5,433.96 324.85,431.31 325.2,431.64 325.55,423.27 325.9,425.19 326.25,423.47 326.6,432.95 326.95,428.01 327.3,422.47 327.65,414.79 328,420.79 328.35,405.03 328.7,412.53 329.05,411.02 329.4,411.19 329.75,408.4 330.1,405.43 330.45,414.42 330.8,401.52 331.15,416.59 331.5,409.7 331.85,415.57 332.2,417.17 332.55,414.46 332.9,419.76 333.25,414.69 333.6,429.54 333.95,427.23 334.3,430.32 334.65,426.25 335,432.53 335.35,440.48 335.7,439.79 336.05,446.94 336.4,456.88 336.75,455.61 337.1,455.41 337.45,464.34 337.8,460.3 338.15,466.47 338.5,471.46 338.85,470.49 339.2,477.24 339.55,476.6 339.9,478.63 340.25,476.79 340.6,480.6 340.95,482.25 341.3,480.15 341.65,481.92 342,482.74 342.35,483.02 342.7,481.79 343.05,483 343.4,484.02 343.75,481.74 344.1,483.57 344.45,482.98 344.8,483.64 345.15,483.67 345.5,484.6 345.85,484.58 346.2,484.26 346.55,484.5 346.9,484.49 347.25,484.33 347.6,484.6 347.95,484.6 348.3,484.39 348.65,484.6 349,484.58 349.35,484.56 349.7,484.57 350.05,484.58 350.4,484.6 350.75,484.58 351.1,484.6 351.45,484.56 351.8,484.6 352.15,484.59 352.5,484.6 352.85,484.59 353.2,484.6 353.55,484.59 353.9,484.6 354.25,484.6 354.6,484.6 354.95,484.6 355.3,484.6 355.65,484.6 356,484.6 356.35,484.6 356.7,484.6 357.05,484.6 357.4,484.6 357.75,484.6 358.1,484.6 358.45,484.6 358.8,484.6 359.15,484.6 359.5,484.6 359.85,484.6 360.2,484.6 360.55,484.6 360.9,484.6 361.25,484.6 361.6,484.6 361.95,484.6 362.3,484.6 362.65,484.6 363,484.6 363.35,484.6 363.7,484.6 364.05,484.6 364.4,484.6 364.75,484.6 365.1,484.6 365.45,484.6 365.8,484.6 366.15,484.6 366.5,484.6 366.85,484.6 367.2,484.6 367.55,484.6 367.9,484.6 368.25,484.6 368.6,484.6 368.95,484.6 369.3,484.6 369.65,484.6 370,484.6 370.35,484.6 370.7,484.6 371.05,484.6 371.4,484.6 371.75,484.6 372.1,484.6 372.45,484.6 372.8,484.6 373.15,484.6 373.5,484.6 373.85,484.6 374.2,484.6 374.55,484.6 374.9,484.6 375.25,484.6 375.6,484.6 375.95,484.6 376.3,484.6 376.65,484.6 377,484.6 377.35,484.6 377.7,484.6 378.05,484.6 378.4,484.6 378.75,484.6 379.1,484.6 379.45,484.6 379.8,484.6 380.15,484.6 380.5,484.6 380.85,484.6 381.2,484.6 381.55,484.6 381.9,484.6 382.25,484.6 382.6,484.6 382.95,484.6 383.3,484.6 383.65,484.6 384,484.6 384.35,484.6 384.7,484.6 385.05,484.6 385.4,484.6 385.75,484.6 386.1,484.6 386.45,484.6 386.8,484.6 387.15,484.6 387.5,484.6 387.85,484.6 388.2,484.6 388.55,484.6 388.9,484.6 389.25,484.6 389.6,484.6 389.95,484.6 390.3,484.6 390.65,484.6 391,484.6 391.35,484.6 391.7,484.6 392.05,484.6 392.4,484.6 392.75,484.6 393.1,484.6 393.45,484.6 393.8,484.6 394.15,484.6 394.5,484.6 394.85,484.6 395.2,484.6 395.55,484.6 395.9,484.6 396.25,484.6 396.6,484.6 396.95,484.6 397.3,484.6 397.65,484.6 398,484.6 398.35,484.6 398.7,484.6 399.05,484.6 399.4,484.6 399.75,484.6 400.1,484.6 400.45,484.6 400.8,484.6 401.15,484.6 401.5,484.6 401.85,484.6 402.2,484.6 402.55,484.6 402.9,484.6 403.25,484.6 403.6,484.6 403.95,484.6 404.3,484.6 404.65,484.6 405,484.6 405.35,484.6 405.7,484.6 406.05,484.6 406.4,484.6 406.75,484.6" fill="none" stroke="#808080" stroke-width="0.8" stroke-linejoin="round" />
<polyline points="317.5,484.6 317.5,483.6 317.85,484.6 318.2,478.32 318.55,477.07 318.9,476.8 319.25,479.24 319.6,477.99 319.95,477.75 320.3,473.65 320.65,473.81 321,474.74 321.35,472.33 321.7,469.74 322.05,471.13 322.4,473.93 322.75,470.17 323.1,470.05 323.45,472.36 323.8,472.68 324.15,464.64 324.5,467.21 324.85,461 325.2,463.79 325.55,456.64 325.9,454.78 326.25,455.09 326.6,459.72 326.95,461.68 327.3,443.11 327.65,450.6 328,439.99 328.35,448.32 328.7,451.04 329.05,444.23 329.4,448.51 329.75,441.11 330.1,432.03 330.45,434.21 330.8,421.98 331.15,434.26 331.5,433.21 331.85,438.54 332.2,437.74 332.55,430.59 332.9,435.9 333.25,432.18 333.6,431.53 333.95,435.58 334.3,416.43 334.65,439.14 335,427.78 335.35,423.41 335.7,423.1 336.05,432.03 336.4,436.12 336.75,418.73 337.1,421.42 337.45,433.37 337.8,435.54 338.15,436.75 338.5,444.51 338.85,440.94 339.2,437.35 339.55,440.9 339.9,450.45 340.25,444.5 340.6,453.28 340.95,458.26 341.3,451.47 341.65,451.86 342,450.11 342.35,460.48 342.7,454.47 343.05,457.55 343.4,459.66 343.75,463 344.1,463.18 344.45,461.35 344.8,462.57 345.15,468.24 345.5,466.7 345.85,465.48 346.2,462.42 346.55,464.38 346.9,466.25 347.25,467.18 347.6,461.63 347.95,468.22 348.3,469.36 348.65,468.51 349,466.18 349.35,467.41 349.7,469.23 350.05,469.14 350.4,466.25 350.75,466.57 351.1,467.22 351.45,471.14 351.8,468.5 352.15,465.15 352.5,471.04 352.85,464.23 353.2,468.7 353.55,466.88 353.9,472.72 354.25,466.24 354.6,470.17 354.95,469.5 355.3,468.99 355.65,466.93 356,471.93 356.35,470.17 356.7,471.6 357.05,476.28 357.4,475.69 357.75,476.59 358.1,473.81 358.45,473.26 358.8,472.97 359.15,472.23 359.5,474.27 359.85,478.01 360.2,471.74 360.55,475.57 360.9,477.54 361.25,479.91 361.6,475.81 361.95,480.29 362.3,475.34 362.65,477.52 363,481.52 363.35,479.38 363.7,475.72 364.05,482.41 364.4,480.37 364.75,483.19 365.1,479.86 365.45,477.52 365.8,480.63 366.15,481 366.5,481.49 366.85,481.63 367.2,481.92 367.55,480.8 367.9,480.55 368.25,484.6 368.6,484.6 368.95,481.23 369.3,481.42 369.65,484.17 370,483.1 370.35,482.61 370.7,482.4 371.05,483.06 371.4,483.02 371.75,483.57 372.1,482.86 372.45,483.59 372.8,483.84 373.15,483.97 373.5,484.27 373.85,483.43 374.2,483.74 374.55,483.83 374.9,484.21 375.25,483.69 375.6,483.99 375.95,484.6 376.3,484.6 376.65,484.48 377,484.33 377.35,483.47 377.7,483.8 378.05,484.07 378.4,483.54 378.75,484.59 379.1,484.37 379.45,484.2 379.8,484.46 380.15,484.52 380.5,484.38 380.85,484.54 381.2,484.24 381.55,484.6 381.9,484.43 382.25,484.21 382.6,484.6 382.95,484.6 383.3,484.5 383.65,484.56 384,484.49 384.35,484.6 384.7,484.54 385.05,484.49 385.4,484.6 385.75,484.59 386.1,484.53 386.45,484.6 386.8,484.6 387.15,484.52 387.5,484.6 387.85,484.57 388.2,484.54 388.55,484.54 388.9,484.6 389.25,484.58 389.6,484.6 389.95,484.6 390.3,484.58 390.65,484.57 391,484.6 391.35,484.58 391.7,484.59 392.05,484.59 392.4,484.6 392.75,484.58 393.1,484.6 393.45,484.6 393.8,484.6 394.15,484.58 394.5,484.59 394.85,484.58 395.2,484.6 395.55,484.59 395.9,484.6 396.25,484.6 396.6,484.59 396.95,484.6 397.3,484.6 397.65,484.6 398,484.6 398.35,484.59 398.7,484.6 399.05,484.6 399.4,484.6 399.75,484.59 400.1,484.6 400.45,484.6 400.8,484.6 401.15,484.6 401.5,484.59 401.85,484.6 402.2,484.6 402.55,484.6 402.9,484.59 403.25,484.6 403.6,484.6 403.95,484.6 404.3,484.6 404.65,484.6 405,484.6 405.35,484.6 405.7,484.6 406.05,484.6 406.4,484.6 406.75,484.6" fill="none" stroke="#505050" stroke-width="0.8" stroke-linejoin="round" />
<line x1="317.5" y1="402.2" x2="317.5" y2="484.6" stroke="#888" stroke-width="1.0"/>
<line x1="317.5" y1="484.6" x2="407.5" y2="484.6" stroke="#777" stroke-width="1.0"/>
<line x1="315.5" y1="402.7" x2="317.5" y2="402.7" stroke="#777" stroke-width="0.9"/>
<text transform="translate(302.76,405.2) scale(1,1)" font-size="7.17" font-weight="bold" fill="#000">128</text>
<line x1="315.5" y1="443.65" x2="317.5" y2="443.65" stroke="#777" stroke-width="0.9"/>
<text transform="translate(306.58,446.15) scale(1,1)" font-size="7.17" font-weight="bold" fill="#000">64</text>
<line x1="315.5" y1="484.6" x2="317.5" y2="484.6" stroke="#777" stroke-width="0.9"/>
<text transform="translate(310.81,487.1) scale(1,1)" font-size="7.17" font-weight="bold" fill="#000">0</text>
<polyline points="419,484.6 419,472.05 419.35,472.22 419.7,470.97 420.05,474.73 420.4,469.41 420.75,470.98 421.1,470.15 421.45,465.89 421.8,468.97 422.15,470.33 422.5,467.19 422.85,468.31 423.2,469.27 423.55,463.3 423.9,460.62 424.25,467.62 424.6,459.76 424.95,457.97 425.3,457.23 425.65,461.14 426,456.95 426.35,455.6 426.7,452.5 427.05,457.83 427.4,450.96 427.75,447.91 428.1,459.42 428.45,449.32 428.8,455.38 429.15,449.64 429.5,451.12 429.85,443.09 430.2,447.47 430.55,444.27 430.9,451.3 431.25,445.21 431.6,441.33 431.95,449.77 432.3,444.59 432.65,445.78 433,448.59 433.35,454.02 433.7,449.22 434.05,452.53 434.4,450.73 434.75,451.67 435.1,450.76 435.45,460.53 435.8,456.69 436.15,459.08 436.5,462.82 436.85,463.06 437.2,466.19 437.55,466.48 437.9,468.87 438.25,472.7 438.6,472.59 438.95,472.8 439.3,477.1 439.65,477.32 440,475.4 440.35,478.08 440.7,480.35 441.05,480.96 441.4,479.1 441.75,480.91 442.1,483.94 442.45,481.9 442.8,483.55 443.15,483.19 443.5,484.51 443.85,483.78 444.2,484.23 444.55,484.58 444.9,483.66 445.25,483.17 445.6,484.07 445.95,484.28 446.3,484.6 446.65,484.51 447,484.6 447.35,484.6 447.7,484.44 448.05,484.56 448.4,484.6 448.75,484.6 449.1,484.54 449.45,484.48 449.8,484.58 450.15,484.6 450.5,484.56 450.85,484.6 451.2,484.6 451.55,484.55 451.9,484.56 452.25,484.6 452.6,484.6 452.95,484.57 453.3,484.6 453.65,484.6 454,484.59 454.35,484.59 454.7,484.6 455.05,484.6 455.4,484.6 455.75,484.6 456.1,484.6 456.45,484.6 456.8,484.6 457.15,484.6 457.5,484.6 457.85,484.6 458.2,484.6 458.55,484.6 458.9,484.6 459.25,484.6 459.6,484.6 459.95,484.6 460.3,484.6 460.65,484.6 461,484.6 461.35,484.6 461.7,484.6 462.05,484.6 462.4,484.6 462.75,484.6 463.1,484.6 463.45,484.6 463.8,484.6 464.15,484.6 464.5,484.6 464.85,484.6 465.2,484.6 465.55,484.6 465.9,484.6 466.25,484.6 466.6,484.6 466.95,484.6 467.3,484.6 467.65,484.6 468,484.6 468.35,484.6 468.7,484.6 469.05,484.6 469.4,484.6 469.75,484.6 470.1,484.6 470.45,484.6 470.8,484.6 471.15,484.6 471.5,484.6 471.85,484.6 472.2,484.6 472.55,484.6 472.9,484.6 473.25,484.6 473.6,484.6 473.95,484.6 474.3,484.6 474.65,484.6 475,484.6 475.35,484.6 475.7,484.6 476.05,484.6 476.4,484.6 476.75,484.6 477.1,484.6 477.45,484.6 477.8,484.6 478.15,484.6 478.5,484.6 478.85,484.6 479.2,484.6 479.55,484.6 479.9,484.6 480.25,484.6 480.6,484.6 480.95,484.6 481.3,484.6 481.65,484.6 482,484.6 482.35,484.6 482.7,484.6 483.05,484.6 483.4,484.6 483.75,484.6 484.1,484.6 484.45,484.6 484.8,484.6 485.15,484.6 485.5,484.6 485.85,484.6 486.2,484.6 486.55,484.6 486.9,484.6 487.25,484.6 487.6,484.6 487.95,484.6 488.3,484.6 488.65,484.6 489,484.6 489.35,484.6 489.7,484.6 490.05,484.6 490.4,484.6 490.75,484.6 491.1,484.6 491.45,484.6 491.8,484.6 492.15,484.6 492.5,484.6 492.85,484.6 493.2,484.6 493.55,484.6 493.9,484.6 494.25,484.6 494.6,484.6 494.95,484.6 495.3,484.6 495.65,484.6 496,484.6 496.35,484.6 496.7,484.6 497.05,484.6 497.4,484.6 497.75,484.6 498.1,484.6 498.45,484.6 498.8,484.6 499.15,484.6 499.5,484.6 499.85,484.6 500.2,484.6 500.55,484.6 500.9,484.6 501.25,484.6 501.6,484.6 501.95,484.6 502.3,484.6 502.65,484.6 503,484.6 503.35,484.6 503.7,484.6 504.05,484.6 504.4,484.6 504.75,484.6 505.1,484.6 505.45,484.6 505.8,484.6 506.15,484.6 506.5,484.6 506.85,484.6 507.2,484.6 507.55,484.6 507.9,484.6 508.25,484.6" fill="none" stroke="#8a8a8a" stroke-width="0.8" stroke-linejoin="round" />
<polyline points="419,484.6 419,484.32 419.22,483.13 419.45,483.33 419.67,483.49 419.9,482.61 420.12,481.84 420.34,482.62 420.57,483.71 420.79,481.85 421.02,482.65 421.24,480.78 421.46,482.17 421.69,480.68 421.91,482.88 422.14,478.83 422.36,482.03 422.58,481.5 422.81,479.9 423.03,476.58 423.26,479.99 423.48,479.25 423.7,483.05 423.93,477.43 424.15,479.23 424.38,477.11 424.6,474.77 424.82,480.84 425.05,477.96 425.27,474.48 425.5,473.66 425.72,475.36 425.94,477.88 426.17,477.13 426.39,476.61 426.62,473.99 426.84,472.89 427.06,473.19 427.29,472.79 427.51,471.82 427.74,474.27 427.96,471.72 428.18,476.64 428.41,473.13 428.63,468.32 428.86,468.58 429.08,465.85 429.3,473.58 429.53,466.3 429.75,471.18 429.98,465.6 430.2,473.32 430.42,469.09 430.65,467.47 430.87,471.18 431.1,468.82 431.32,458.88 431.54,461.41 431.77,463.17 431.99,465.37 432.22,465.29 432.44,464.95 432.66,454.52 432.89,461.11 433.11,459.92 433.34,463.62 433.56,461.64 433.78,459.78 434.01,462.7 434.23,460.79 434.46,461.56 434.68,461.6 434.9,463.14 435.13,458.85 435.35,460.82 435.58,457.5 435.8,459.65 436.02,464.08 436.25,459.73 436.47,459.94 436.7,457.37 436.92,460.63 437.14,460.11 437.37,457.25 437.59,458.59 437.82,463.07 438.04,457.37 438.26,463.99 438.49,463.93 438.71,460.54 438.94,464.27 439.16,469.87 439.38,465.16 439.61,465.02 439.83,461.23 440.06,467.87 440.28,470.38 440.5,463.57 440.73,466.9 440.95,465.24 441.18,468.6 441.4,468.88 441.62,469.26 441.85,470.06 442.07,472.2 442.3,469.23 442.52,473.6 442.74,474.64 442.97,472.63 443.19,467.59 443.42,479.66 443.64,476.07 443.86,478.97 444.09,473.52 444.31,475.75 444.54,478.73 444.76,473.27 444.98,478.01 445.21,470.69 445.43,474.68 445.66,474.67 445.88,476.87 446.1,474.72 446.33,476.1 446.55,479.61 446.78,477.88 447,479.06 447.22,478.03 447.45,478.62 447.67,478.38 447.9,477.98 448.12,479.78 448.34,476.38 448.57,481.84 448.79,480 449.02,481.54 449.24,477.41 449.46,479.5 449.69,478.32 449.91,480.29 450.14,478.11 450.36,478.22 450.58,478.41 450.81,476.93 451.03,477.2 451.26,479.96 451.48,482.22 451.7,481.43 451.93,477.93 452.15,480.06 452.38,478.32 452.6,482.07 452.82,478.83 453.05,480.07 453.27,480.01 453.5,480.48 453.72,480.33 453.94,478.57 454.17,477.44 454.39,478.87 454.62,477.91 454.84,478.43 455.06,480.78 455.29,481.26 455.51,478.53 455.74,478.15 455.96,476.09 456.18,478.85 456.41,480.42 456.63,479.74 456.86,477.9 457.08,480.02 457.3,479.57 457.53,484.6 457.75,482.18 457.98,475.95 458.2,480.49 458.42,480.4 458.65,480.78 458.87,479.61 459.1,480.9 459.32,481.35 459.54,480.87 459.77,480.48 459.99,477.97 460.22,479.41 460.44,479.68 460.66,479.37 460.89,477.89 461.11,478.37 461.34,479.14 461.56,481.21 461.78,481.45 462.01,478.54 462.23,479.3 462.46,476.65 462.68,480.14 462.9,478.64 463.13,479.93 463.35,479.96 463.58,479.82 463.8,479.71 464.02,479.62 464.25,481.82 464.47,480.61 464.7,479.97 464.92,477.79 465.14,478.85 465.37,480.79 465.59,478.01 465.82,478.71 466.04,481.21 466.26,477.98 466.49,483.04 466.71,479.88 466.94,477.6 467.16,481.52 467.38,480.12 467.61,477.64 467.83,480.12 468.06,479.66 468.28,479.39 468.5,477.41 468.73,481.86 468.95,482.35 469.18,477.7 469.4,480.2 469.62,482.37 469.85,480.71 470.07,479.37 470.3,481 470.52,479.49 470.74,482.11 470.97,480.98 471.19,484.27 471.42,481.85 471.64,482.9 471.86,479.46 472.09,480.93 472.31,480.71 472.54,481.63 472.76,483.04 472.98,482.97 473.21,482.72 473.43,482.89 473.66,482.93 473.88,480.71 474.1,483.65 474.33,483.47 474.55,483.98 474.78,482.38 475,483.53 475.22,484.05 475.45,481.57 475.67,483.2 475.9,483.06 476.12,482.72 476.34,483 476.57,483.64 476.79,483.69 477.02,483.55 477.24,483.66 477.46,484.41 477.69,483.61 477.91,484.28 478.14,483.44 478.36,483.11 478.58,483.72 478.81,483.56 479.03,483.92 479.26,484.27 479.48,484.6 479.7,484.6 479.93,484.55 480.15,484.55 480.38,483.95 480.6,484.6 480.82,484.6 481.05,484.6 481.27,484.6 481.5,484.4 481.72,483.86 481.94,484.6 482.17,484.52 482.39,484.31 482.62,484.59 482.84,484.6 483.06,484.45 483.29,484.53 483.51,484.54 483.74,484.6 483.96,484.55 484.18,484.56 484.41,484.59 484.63,484.48 484.86,484.6 485.08,484.6 485.3,484.56 485.53,484.6 485.75,484.6 485.98,484.6 486.2,484.6 486.42,484.51 486.65,484.6 486.87,484.55 487.1,484.6 487.32,484.56 487.54,484.6 487.77,484.59 487.99,484.54 488.22,484.6 488.44,484.56 488.66,484.58 488.89,484.6 489.11,484.56 489.34,484.59 489.56,484.6 489.78,484.59 490.01,484.6 490.23,484.59 490.46,484.6 490.68,484.6 490.9,484.6 491.13,484.59 491.35,484.6 491.58,484.58 491.8,484.6 492.02,484.59 492.25,484.59 492.47,484.59 492.7,484.6 492.92,484.6 493.14,484.6 493.37,484.6 493.59,484.6 493.82,484.6 494.04,484.6 494.26,484.59 494.49,484.6 494.71,484.6 494.94,484.6 495.16,484.6 495.38,484.6 495.61,484.6 495.83,484.59 496.06,484.6 496.28,484.6 496.5,484.6 496.73,484.6 496.95,484.6 497.18,484.6 497.4,484.6 497.62,484.6 497.85,484.6 498.07,484.6 498.3,484.6 498.52,484.6 498.74,484.6 498.97,484.6 499.19,484.6 499.42,484.6 499.64,484.6 499.86,484.6 500.09,484.6 500.31,484.6 500.54,484.6 500.76,484.6 500.98,484.6 501.21,484.6 501.43,484.6 501.66,484.6 501.88,484.6 502.1,484.6 502.33,484.6 502.55,484.6 502.78,484.6 503,484.6 503.22,484.6 503.45,484.6 503.67,484.6 503.9,484.6 504.12,484.6 504.34,484.6 504.57,484.6 504.79,484.6 505.02,484.6 505.24,484.6 505.46,484.6 505.69,484.6 505.91,484.6 506.14,484.6 506.36,484.6 506.58,484.6 506.81,484.6 507.03,484.6 507.26,484.6 507.48,484.6 507.7,484.6 507.93,484.6 508.15,484.6 508.38,484.6" fill="none" stroke="#46194a" stroke-width="1.3" stroke-linejoin="round" />
<line x1="419" y1="401" x2="419" y2="484.6" stroke="#888" stroke-width="1.0"/>
<line x1="419" y1="484.6" x2="509" y2="484.6" stroke="#777" stroke-width="1.0"/>
<text transform="translate(314.14,396.2) scale(1.02,1)" font-size="7.17" font-weight="bold" fill="#000">10</text>
<text transform="translate(323.05,393.8) scale(1,1)" font-size="4.87" font-weight="bold" fill="#000">0</text>
<text transform="translate(332.64,396.2) scale(1.02,1)" font-size="7.17" font-weight="bold" fill="#000">10</text>
<text transform="translate(341.46,393.8) scale(1,1)" font-size="4.87" font-weight="bold" fill="#000">1</text>
<text transform="translate(353.94,396.2) scale(1.02,1)" font-size="7.17" font-weight="bold" fill="#000">10</text>
<text transform="translate(362.86,393.8) scale(1,1)" font-size="4.87" font-weight="bold" fill="#000">2</text>
<text transform="translate(376.74,396.2) scale(1.02,1)" font-size="7.17" font-weight="bold" fill="#000">10</text>
<text transform="translate(385.68,393.8) scale(1,1)" font-size="4.87" font-weight="bold" fill="#000">3</text>
<text transform="translate(398.74,396.2) scale(1.02,1)" font-size="7.17" font-weight="bold" fill="#000">10</text>
<text transform="translate(407.62,393.8) scale(1,1)" font-size="4.87" font-weight="bold" fill="#000">4</text>
<text transform="translate(414.94,396.2) scale(1.02,1)" font-size="7.17" font-weight="bold" fill="#000">10</text>
<text transform="translate(423.85,393.8) scale(1,1)" font-size="4.87" font-weight="bold" fill="#000">0</text>
<text transform="translate(435.74,396.2) scale(1.02,1)" font-size="7.17" font-weight="bold" fill="#000">10</text>
<text transform="translate(444.56,393.8) scale(1,1)" font-size="4.87" font-weight="bold" fill="#000">1</text>
<text transform="translate(457.24,396.2) scale(1.02,1)" font-size="7.17" font-weight="bold" fill="#000">10</text>
<text transform="translate(466.16,393.8) scale(1,1)" font-size="4.87" font-weight="bold" fill="#000">2</text>
<text transform="translate(479.14,396.2) scale(1.02,1)" font-size="7.17" font-weight="bold" fill="#000">10</text>
<text transform="translate(488.08,393.8) scale(1,1)" font-size="4.87" font-weight="bold" fill="#000">3</text>
<text transform="translate(501.04,396.2) scale(1.02,1)" font-size="7.17" font-weight="bold" fill="#000">10</text>
<text transform="translate(509.92,393.8) scale(1,1)" font-size="4.87" font-weight="bold" fill="#000">4</text>
<text transform="translate(312.94,494.6) scale(1.02,1)" font-size="7.17" font-weight="bold" fill="#000">10</text>
<text transform="translate(321.85,492.2) scale(1,1)" font-size="4.87" font-weight="bold" fill="#000">0</text>
<text transform="translate(335.34,494.6) scale(1.02,1)" font-size="7.17" font-weight="bold" fill="#000">10</text>
<text transform="translate(344.16,492.2) scale(1,1)" font-size="4.87" font-weight="bold" fill="#000">1</text>
<text transform="translate(356.04,494.6) scale(1.02,1)" font-size="7.17" font-weight="bold" fill="#000">10</text>
<text transform="translate(364.96,492.2) scale(1,1)" font-size="4.87" font-weight="bold" fill="#000">2</text>
<text transform="translate(379.14,494.6) scale(1.02,1)" font-size="7.17" font-weight="bold" fill="#000">10</text>
<text transform="translate(388.08,492.2) scale(1,1)" font-size="4.87" font-weight="bold" fill="#000">3</text>
<text transform="translate(401.04,494.6) scale(1.02,1)" font-size="7.17" font-weight="bold" fill="#000">10</text>
<text transform="translate(409.92,492.2) scale(1,1)" font-size="4.87" font-weight="bold" fill="#000">4</text>
<text transform="translate(416.84,494.6) scale(1.02,1)" font-size="7.17" font-weight="bold" fill="#000">10</text>
<text transform="translate(425.75,492.2) scale(1,1)" font-size="4.87" font-weight="bold" fill="#000">0</text>
<text transform="translate(437.54,494.6) scale(1.02,1)" font-size="7.17" font-weight="bold" fill="#000">10</text>
<text transform="translate(446.36,492.2) scale(1,1)" font-size="4.87" font-weight="bold" fill="#000">1</text>
<text transform="translate(458.34,494.6) scale(1.02,1)" font-size="7.17" font-weight="bold" fill="#000">10</text>
<text transform="translate(467.26,492.2) scale(1,1)" font-size="4.87" font-weight="bold" fill="#000">2</text>
<text transform="translate(481.54,494.6) scale(1.02,1)" font-size="7.17" font-weight="bold" fill="#000">10</text>
<text transform="translate(490.48,492.2) scale(1,1)" font-size="4.87" font-weight="bold" fill="#000">3</text>
<text transform="translate(502.24,494.6) scale(1.02,1)" font-size="7.17" font-weight="bold" fill="#000">10</text>
<text transform="translate(511.12,492.2) scale(1,1)" font-size="4.87" font-weight="bold" fill="#000">4</text>
<text transform="translate(343.5,307.3) scale(0.96,1)" font-size="15.13" font-weight="bold" fill="#000">untreated</text>
<text transform="translate(376.82,325.3) scale(1.07,1)" font-size="14.62" font-weight="bold" fill="#000">13</text>
<text transform="translate(376.2,341.2) scale(1.11,1)" font-size="14.34" font-weight="normal" fill="#000">69%</text>
<text transform="translate(474.65,307.2) scale(0.98,1)" font-size="14.4" font-weight="bold" fill="#000">ATP</text>
<text transform="translate(475.32,325.3) scale(1.07,1)" font-size="14.62" font-weight="bold" fill="#000">13</text>
<text transform="translate(475.48,341.2) scale(1.09,1)" font-size="14.34" font-weight="normal" fill="#000">71%</text>
<text transform="translate(374.86,414.2) scale(0.94,1)" font-size="14.84" font-weight="bold" fill="#000">IL-2</text>
<text transform="translate(386.19,435) scale(0.93,1)" font-size="14.62" font-weight="bold" fill="#000">5</text>
<text transform="translate(375.41,451.2) scale(1.1,1)" font-size="14.34" font-weight="normal" fill="#000">38%</text>
<text transform="translate(440.03,414.2) scale(1,1)" font-size="14.4" font-weight="bold" fill="#000">IL-2+ATP</text>
<text transform="translate(482.07,435) scale(1.11,1)" font-size="14.62" font-weight="bold" fill="#000">8</text>
<text transform="translate(473.22,451.2) scale(1.09,1)" font-size="14.34" font-weight="normal" fill="#000">38%</text>
<text transform="translate(301.6,371.48) rotate(-90) scale(1.11,1)" font-size="15.71" font-weight="bold" fill="#000">Events</text>
<text transform="translate(302.6,469.68) rotate(-90) scale(1.09,1)" font-size="16" font-weight="bold" fill="#000">Events</text>
<line x1="344.6" y1="503.7" x2="489" y2="503.7" stroke="#000" stroke-width="2.2"/>
<path d="M495,503.7 L480,499.5 L484,503.7 L480,507.9 Z" fill="#000"/>
<text transform="translate(377.57,524) scale(0.93,1)" font-size="16.92" font-weight="bold" fill="#000">CXCR4</text>
</svg>
</body></html>
